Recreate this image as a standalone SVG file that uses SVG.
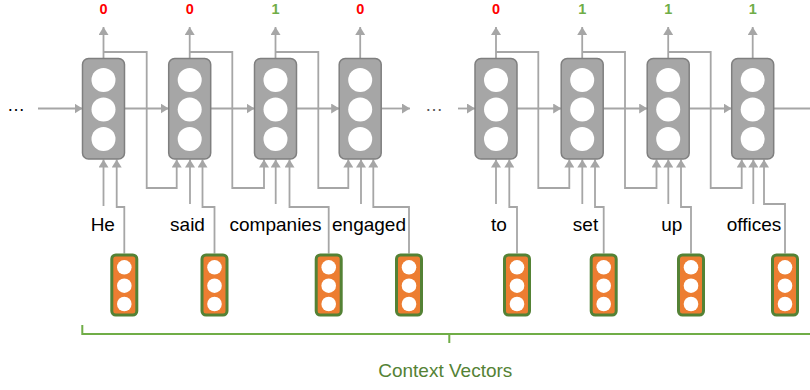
<svg xmlns="http://www.w3.org/2000/svg" width="810" height="390" viewBox="0 0 810 390">
<style>
.cell{fill:#A6A6A6;stroke:#7F7F7F;stroke-width:1.5}
.hole{fill:#FFFFFF}
.ctx{fill:#ED7D31;stroke:#548235;stroke-width:3}
.ln{fill:none;stroke:#A6A6A6;stroke-width:1.8}
.arr{marker-end:url(#ah)}
.word{font-family:"Liberation Sans",Arial,sans-serif;font-size:19px;fill:#000;text-anchor:middle}
.o0{font-family:"Liberation Sans",Arial,sans-serif;font-size:14.5px;font-weight:bold;fill:#FF0000;text-anchor:middle}
.o1{font-family:"Liberation Sans",Arial,sans-serif;font-size:14.5px;font-weight:bold;fill:#70AD47;text-anchor:middle}
.dots{font-family:"Liberation Sans",Arial,sans-serif;font-size:18px;text-anchor:middle}
</style>
<defs>
<marker id="ah" markerUnits="userSpaceOnUse" markerWidth="8" markerHeight="10" refX="8" refY="5" orient="auto">
<path d="M0,0 L8,5 L0,10 z" fill="#A6A6A6"/>
</marker>
<g id="cellshape">
<rect class="cell" x="-21" y="58.5" width="42" height="100.5" rx="6"/>
<circle class="hole" cx="0" cy="80" r="12"/>
<circle class="hole" cx="0" cy="109.5" r="12"/>
<circle class="hole" cx="0" cy="139" r="12"/>
</g>
<g id="ctxshape">
<rect class="ctx" x="-12.5" y="255" width="25" height="60" rx="4"/>
<circle class="hole" cx="0" cy="267.3" r="7.3"/>
<circle class="hole" cx="0" cy="285.7" r="7.3"/>
<circle class="hole" cx="0" cy="304" r="7.3"/>
</g>
</defs>

<g id="connectors">
<!-- outputs -->
<line class="ln arr" x1="103.5" y1="58.5" x2="103.5" y2="27"/>
<line class="ln arr" x1="189.7" y1="58.5" x2="189.7" y2="27"/>
<line class="ln arr" x1="275.5" y1="58.5" x2="275.5" y2="27"/>
<line class="ln arr" x1="360.2" y1="58.5" x2="360.2" y2="27"/>
<line class="ln arr" x1="496" y1="58.5" x2="496" y2="27"/>
<line class="ln arr" x1="582.2" y1="58.5" x2="582.2" y2="27"/>
<line class="ln arr" x1="668.2" y1="58.5" x2="668.2" y2="27"/>
<line class="ln arr" x1="752.7" y1="58.5" x2="752.7" y2="27"/>
<!-- horizontal recurrence -->
<line class="ln arr" x1="38" y1="108.5" x2="82.5" y2="108.5"/>
<line class="ln arr" x1="124.5" y1="108.5" x2="168.7" y2="108.5"/>
<line class="ln arr" x1="210.7" y1="108.5" x2="254.5" y2="108.5"/>
<line class="ln arr" x1="296.5" y1="108.5" x2="339.2" y2="108.5"/>
<line class="ln arr" x1="381.2" y1="108.5" x2="410" y2="108.5"/>
<line class="ln arr" x1="458" y1="108.5" x2="475" y2="108.5"/>
<line class="ln arr" x1="517" y1="108.5" x2="561.2" y2="108.5"/>
<line class="ln arr" x1="603.2" y1="108.5" x2="647.2" y2="108.5"/>
<line class="ln arr" x1="689.2" y1="108.5" x2="731.7" y2="108.5"/>
<line class="ln arr" x1="773.7" y1="108.5" x2="818" y2="108.5"/>
<!-- output fed to next cell -->
<polyline class="ln arr" points="103.5,52 146.7,52 146.7,188 176.7,188 176.7,159.5"/>
<polyline class="ln arr" points="189.7,52 232.3,52 232.3,188 264,188 264,159.5"/>
<polyline class="ln arr" points="275.5,52 318.3,52 318.3,188 348.3,188 348.3,159.5"/>
<polyline class="ln arr" points="496,52 538.3,52 538.3,188 569.3,188 569.3,159.5"/>
<polyline class="ln arr" points="582.2,52 625,52 625,188 656.5,188 656.5,159.5"/>
<polyline class="ln arr" points="668.2,52 710.7,52 710.7,188 741.7,188 741.7,159.5"/>
<!-- word inputs -->
<line class="ln arr" x1="103.5" y1="206" x2="103.5" y2="159.5"/>
<line class="ln arr" x1="190" y1="204" x2="190" y2="159.5"/>
<line class="ln arr" x1="275.7" y1="204" x2="275.7" y2="159.5"/>
<line class="ln arr" x1="361" y1="204" x2="361" y2="159.5"/>
<line class="ln arr" x1="496" y1="204" x2="496" y2="159.5"/>
<line class="ln arr" x1="582.3" y1="204" x2="582.3" y2="159.5"/>
<line class="ln arr" x1="668.3" y1="204" x2="668.3" y2="159.5"/>
<line class="ln arr" x1="753.3" y1="204" x2="753.3" y2="159.5"/>
<!-- context inputs -->
<polyline class="ln arr" points="124.3,253.5 124.3,207 116.7,207 116.7,159.5"/>
<polyline class="ln arr" points="214.5,253.5 214.5,207 202.5,207 202.5,159.5"/>
<polyline class="ln arr" points="328.7,253.5 328.7,207 289.5,207 289.5,159.5"/>
<polyline class="ln arr" points="409,253.5 409,207 373.3,207 373.3,159.5"/>
<polyline class="ln arr" points="517,253.5 517,207 509.3,207 509.3,159.5"/>
<polyline class="ln arr" points="603.7,253.5 603.7,207 595,207 595,159.5"/>
<polyline class="ln arr" points="691,253.5 691,207 681,207 681,159.5"/>
<polyline class="ln arr" points="785,253.5 785,204 764,204 764,159.5"/>
</g>

<g id="cell1"><use href="#cellshape" x="103.5"/></g>
<g id="cell2"><use href="#cellshape" x="189.7"/></g>
<g id="cell3"><use href="#cellshape" x="275.5"/></g>
<g id="cell4"><use href="#cellshape" x="360.2"/></g>
<g id="cell5"><use href="#cellshape" x="496"/></g>
<g id="cell6"><use href="#cellshape" x="582.2"/></g>
<g id="cell7"><use href="#cellshape" x="668.2"/></g>
<g id="cell8"><use href="#cellshape" x="752.7"/></g>

<g id="ctx1"><use href="#ctxshape" x="124.3"/></g>
<g id="ctx2"><use href="#ctxshape" x="214.5"/></g>
<g id="ctx3"><use href="#ctxshape" x="328.7"/></g>
<g id="ctx4"><use href="#ctxshape" x="409"/></g>
<g id="ctx5"><use href="#ctxshape" x="517"/></g>
<g id="ctx6"><use href="#ctxshape" x="603.7"/></g>
<g id="ctx7"><use href="#ctxshape" x="691"/></g>
<g id="ctx8"><use href="#ctxshape" x="785"/></g>

<g id="outputs">
<text class="o0" x="103.5" y="13.5">0</text>
<text class="o0" x="189.7" y="13.5">0</text>
<text class="o1" x="275.5" y="13.5">1</text>
<text class="o0" x="360.2" y="13.5">0</text>
<text class="o0" x="496" y="13.5">0</text>
<text class="o1" x="582.2" y="13.5">1</text>
<text class="o1" x="668.2" y="13.5">1</text>
<text class="o1" x="752.7" y="13.5">1</text>
</g>

<g id="words">
<text class="word" x="102.8" y="231">He</text>
<text class="word" x="187.5" y="231">said</text>
<text class="word" x="275.5" y="231">companies</text>
<text class="word" x="369" y="231">engaged</text>
<text class="word" x="499" y="231">to</text>
<text class="word" x="585.5" y="231">set</text>
<text class="word" x="671.7" y="231">up</text>
<text class="word" x="754" y="231">offices</text>
</g>

<g id="ellipses">
<text class="dots" x="16" y="111" fill="#000">…</text>
<text class="dots" x="434" y="111" fill="#555">…</text>
</g>

<g id="bracket">
<polyline points="82.3,325 82.3,334 812,334" fill="none" stroke="#70AD47" stroke-width="2"/>
<line x1="449.3" y1="334" x2="449.3" y2="343" stroke="#70AD47" stroke-width="2"/>
<text x="445.3" y="377" font-family="'Liberation Sans',Arial,sans-serif" font-size="19" fill="#548235" text-anchor="middle">Context Vectors</text>
</g>
</svg>
